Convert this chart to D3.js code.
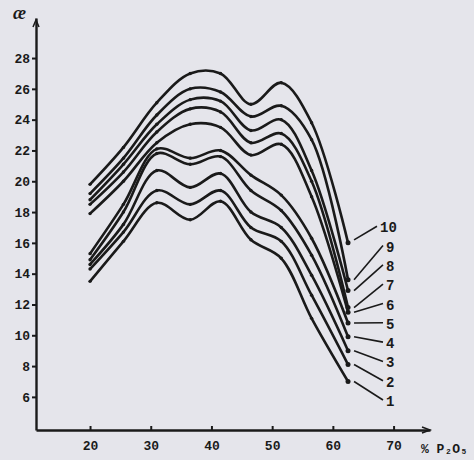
<!DOCTYPE html>
<html>
<head>
<meta charset="utf-8">
<script src="https://cdn.jsdelivr.net/npm/d3@7"></script>
<style>
  html, body { margin: 0; padding: 0; background: #e5e5eb; }
  svg { display: block; }
  text { font-family: "Liberation Mono", "DejaVu Sans Mono", monospace; font-weight: bold; fill: #1a1a1a; }
</style>
</head>
<body>
<svg id="chart" width="474" height="460"></svg>
<script>
// ---- data ----
const xValues = [20, 25.5, 31, 36.5, 41.5, 46.5, 51.5, 56.5, 62.5];
const curve1  = [13.5, 16.1, 18.6, 17.5, 18.7, 16.2, 15.0, 11.1, 7.0];
const curve2  = [14.3, 16.7, 19.4, 18.5, 19.4, 17.0, 16.1, 12.6, 8.1];
const curve3  = [14.6, 17.2, 20.7, 19.6, 20.5, 18.0, 17.0, 13.9, 9.0];
const curve4  = [14.9, 18.0, 21.8, 21.1, 21.6, 19.4, 18.1, 15.2, 9.9];
const curve5  = [15.3, 18.5, 22.1, 21.5, 22.0, 20.4, 19.1, 16.3, 10.8];
const curve6  = [17.9, 20.0, 22.5, 23.7, 23.5, 21.7, 22.4, 19.0, 11.5];
const curve7  = [18.5, 20.6, 23.2, 24.7, 24.5, 22.5, 23.1, 20.0, 11.8];
const curve8  = [18.8, 21.1, 23.7, 25.3, 25.2, 23.3, 24.0, 20.7, 12.9];
const curve9  = [19.2, 21.5, 24.3, 26.0, 25.8, 24.2, 24.9, 22.7, 13.6];
const curve10 = [19.8, 22.2, 25.1, 27.0, 27.0, 25.0, 26.4, 23.8, 16.0];
const curveLabels = ["1", "2", "3", "4", "5", "6", "7", "8", "9", "10"];
const yTicks = [6, 8, 10, 12, 14, 16, 18, 20, 22, 24, 26, 28];
const xTicks = [20, 30, 40, 50, 60, 70];
const yTitle = "æ";
const xTitle = "% P₂O₅";

const series = [curve1, curve2, curve3, curve4, curve5, curve6, curve7, curve8, curve9, curve10];

// ---- layout ----
const svg = d3.select("#chart");
const ink = "#1a1a1a";
const x = d3.scaleLinear().domain([11.1, 76]).range([36, 430]);
const y = d3.scaleLinear().domain([3.85, 30.6]).range([430, 18]);

// axes
const xAxis = d3.axisBottom(x).tickValues(xTicks).tickFormat(d3.format("d"))
  .tickSizeInner(-4).tickSizeOuter(0).tickPadding(11);
const gx = svg.append("g").attr("transform", `translate(0,${y(3.85)})`).call(xAxis);
gx.select(".domain").attr("stroke", ink).attr("stroke-width", 2.4);
gx.selectAll(".tick line").attr("stroke", ink).attr("stroke-width", 2);
gx.selectAll(".tick text").style("font-size", "13px").attr("fill", ink);

const yAxis = d3.axisLeft(y).tickValues(yTicks).tickFormat(d3.format("d"))
  .tickSizeInner(4).tickSizeOuter(0).tickPadding(2);
const gy = svg.append("g").attr("transform", `translate(${x(11.1)},0)`).call(yAxis);
gy.select(".domain").attr("stroke", ink).attr("stroke-width", 2.4);
gy.selectAll(".tick line").attr("stroke", ink).attr("stroke-width", 2);
gy.selectAll(".tick text").style("font-size", "13px").attr("fill", ink);

// arrowheads
const ax0 = x(11.1), ayTop = y(30.6), axEnd = x(76), ayBase = y(3.85);
svg.append("path")
  .attr("d", `M${ax0 - 3},${ayTop + 9} L${ax0},${ayTop + 2} L${ax0 + 3},${ayTop + 9}`)
  .attr("fill", "none").attr("stroke", ink).attr("stroke-width", 1.5);
svg.append("path")
  .attr("d", `M${axEnd - 8},${ayBase - 3} L${axEnd},${ayBase} L${axEnd - 8},${ayBase + 3}`)
  .attr("fill", "none").attr("stroke", ink).attr("stroke-width", 1.5);

// titles
svg.append("text").attr("x", 13).attr("y", 19).text(yTitle)
  .style("font-size", "18px").style("font-style", "italic")
  .style("font-family", "'Liberation Serif', serif");
svg.append("text").attr("x", 421).attr("y", 453).text(xTitle)
  .style("font-size", "13px");

// curves
const line = d3.line()
  .x((d, i) => x(xValues[i]))
  .y(d => y(d))
  .curve(d3.curveCatmullRom.alpha(0.5));

const g = svg.append("g");
series.forEach((s, k) => {
  g.append("path").datum(s).attr("d", line)
    .attr("fill", "none").attr("stroke", ink).attr("stroke-width", 2.6)
    .attr("stroke-linejoin", "round");
  g.selectAll(null).data(s).enter().append("circle")
    .attr("cx", (d, i) => x(xValues[i]))
    .attr("cy", d => y(d))
    .attr("r", (d, i) => i === s.length - 1 ? 2.5 : 1.7)
    .attr("fill", ink);
});

// curve labels with leader lines
const lastX = x(xValues[xValues.length - 1]);
series.forEach((s, k) => {
  const endY = y(s[s.length - 1]);
  const labY = 401 - k * 19.3;
  const labX = k === 9 ? 380 : 386;
  svg.append("line")
    .attr("x1", lastX + 6).attr("y1", endY + (k === 9 ? -3 : 0))
    .attr("x2", labX - 3).attr("y2", labY - 1)
    .attr("stroke", ink).attr("stroke-width", 1.6);
  svg.append("text").attr("x", labX).attr("y", labY + 5)
    .text(curveLabels[k]).style("font-size", "14px");
});
</script>
</body>
</html>
